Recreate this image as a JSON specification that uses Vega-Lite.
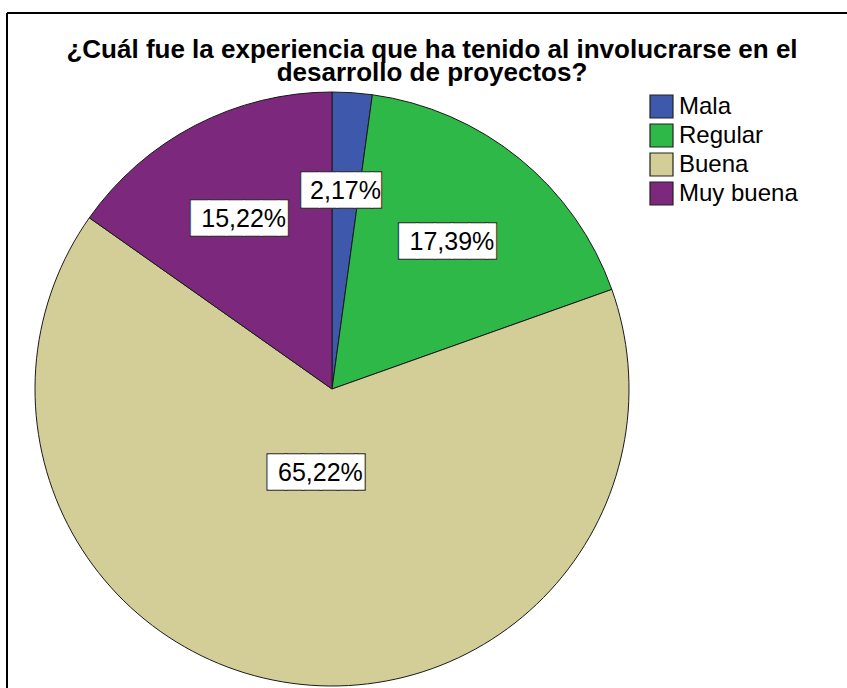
{
  "$schema": "https://vega.github.io/schema/vega-lite/v6.json",
  "width": 840,
  "height": 675,
  "autosize": {"type": "none"},
  "padding": {"left": 7, "top": 13, "right": 0, "bottom": 0},
  "background": "white",
  "view": {"stroke": "black", "strokeWidth": 2, "strokeDash": [840, 1515, 675, 0]},
  "config": {
    "font": "Liberation Sans",
    "view": {"stroke": "black", "strokeWidth": 2, "strokeDash": [840, 1515, 675, 0]}
  },
  "title": {
    "text": ["¿Cuál fue la experiencia que ha tenido al involucrarse en el", "desarrollo de proyectos?"],
    "anchor": "middle",
    "frame": "group",
    "offset": -73,
    "dx": 5,
    "fontSize": 26,
    "fontWeight": "bold",
    "font": "Liberation Sans",
    "lineHeight": 23,
    "color": "black"
  },
  "data": {
    "values": [
      {"categoria": "Mala", "codigo": 1, "pct": 2.17, "etiqueta": "2,17%"},
      {"categoria": "Regular", "codigo": 2, "pct": 17.39, "etiqueta": "17,39%"},
      {"categoria": "Buena", "codigo": 3, "pct": 65.22, "etiqueta": "65,22%"},
      {"categoria": "Muy buena", "codigo": 4, "pct": 15.22, "etiqueta": "15,22%"}
    ]
  },
  "encoding": {
    "theta": {"field": "pct", "type": "quantitative", "stack": true},
    "order": {"field": "codigo", "type": "quantitative"}
  },
  "layer": [
    {
      "mark": {"type": "arc", "x": 325, "y": 376, "outerRadius": 297, "stroke": "#1a1a1a", "strokeWidth": 1},
      "encoding": {
        "color": {
          "field": "categoria",
          "type": "nominal",
          "scale": {"domain": ["Mala", "Regular", "Buena", "Muy buena"], "range": ["#3E58AC", "#2EB848", "#D3CE97", "#7C287D"]},
          "legend": {
            "title": null,
            "orient": "none",
            "legendX": 642,
            "legendY": 81,
            "padding": 0,
            "symbolType": "square",
            "symbolSize": 529,
            "symbolStrokeColor": "#222222",
            "symbolStrokeWidth": 1.2,
            "symbolOpacity": 1,
            "labelFontSize": 24,
            "labelFont": "Liberation Sans",
            "labelColor": "black",
            "labelOffset": 5,
            "rowPadding": 0
          }
        }
      }
    },
    {
      "mark": {"type": "text", "x": 325, "y": 376, "radius": 198, "font": "DejaVu Sans Mono", "fontSize": 29, "align": "center", "baseline": "middle", "fill": "white", "stroke": "#333333", "strokeWidth": 3},
      "encoding": {"text": {"condition": {"test": "datum.categoria === 'Mala'", "value": "████▌"}, "value": ""}}
    },
    {
      "mark": {"type": "text", "x": 325, "y": 376, "radius": 198, "font": "DejaVu Sans Mono", "fontSize": 29, "align": "center", "baseline": "middle", "fill": "white", "stroke": "white", "strokeWidth": 0.6},
      "encoding": {"text": {"condition": {"test": "datum.categoria === 'Mala'", "value": "████▌"}, "value": ""}}
    },
    {
      "mark": {"type": "text", "x": 325, "y": 376, "radius": 198, "fontSize": 25, "align": "center", "baseline": "middle", "fill": "black"},
      "encoding": {"text": {"condition": {"test": "datum.categoria === 'Mala'", "field": "etiqueta"}, "value": ""}}
    },
    {
      "mark": {"type": "text", "x": 325, "y": 376, "radius": 190, "font": "DejaVu Sans Mono", "fontSize": 29, "align": "center", "baseline": "middle", "fill": "white", "stroke": "#333333", "strokeWidth": 3},
      "encoding": {"text": {"condition": {"test": "datum.categoria === 'Regular'", "value": "█████▌"}, "value": ""}}
    },
    {
      "mark": {"type": "text", "x": 325, "y": 376, "radius": 190, "font": "DejaVu Sans Mono", "fontSize": 29, "align": "center", "baseline": "middle", "fill": "white", "stroke": "white", "strokeWidth": 0.6},
      "encoding": {"text": {"condition": {"test": "datum.categoria === 'Regular'", "value": "█████▌"}, "value": ""}}
    },
    {
      "mark": {"type": "text", "x": 325, "y": 376, "radius": 190, "fontSize": 25, "align": "center", "baseline": "middle", "fill": "black"},
      "encoding": {"text": {"condition": {"test": "datum.categoria === 'Regular'", "field": "etiqueta"}, "value": ""}}
    },
    {
      "mark": {"type": "text", "x": 325, "y": 376, "radius": 85, "font": "DejaVu Sans Mono", "fontSize": 29, "align": "center", "baseline": "middle", "fill": "white", "stroke": "#333333", "strokeWidth": 3},
      "encoding": {"text": {"condition": {"test": "datum.categoria === 'Buena'", "value": "█████▌"}, "value": ""}}
    },
    {
      "mark": {"type": "text", "x": 325, "y": 376, "radius": 85, "font": "DejaVu Sans Mono", "fontSize": 29, "align": "center", "baseline": "middle", "fill": "white", "stroke": "white", "strokeWidth": 0.6},
      "encoding": {"text": {"condition": {"test": "datum.categoria === 'Buena'", "value": "█████▌"}, "value": ""}}
    },
    {
      "mark": {"type": "text", "x": 325, "y": 376, "radius": 85, "fontSize": 25, "align": "center", "baseline": "middle", "fill": "black"},
      "encoding": {"text": {"condition": {"test": "datum.categoria === 'Buena'", "field": "etiqueta"}, "value": ""}}
    },
    {
      "mark": {"type": "text", "x": 325, "y": 376, "radius": 192, "font": "DejaVu Sans Mono", "fontSize": 29, "align": "center", "baseline": "middle", "fill": "white", "stroke": "#333333", "strokeWidth": 3},
      "encoding": {"text": {"condition": {"test": "datum.categoria === 'Muy buena'", "value": "█████▌"}, "value": ""}}
    },
    {
      "mark": {"type": "text", "x": 325, "y": 376, "radius": 192, "font": "DejaVu Sans Mono", "fontSize": 29, "align": "center", "baseline": "middle", "fill": "white", "stroke": "white", "strokeWidth": 0.6},
      "encoding": {"text": {"condition": {"test": "datum.categoria === 'Muy buena'", "value": "█████▌"}, "value": ""}}
    },
    {
      "mark": {"type": "text", "x": 325, "y": 376, "radius": 192, "fontSize": 25, "align": "center", "baseline": "middle", "fill": "black"},
      "encoding": {"text": {"condition": {"test": "datum.categoria === 'Muy buena'", "field": "etiqueta"}, "value": ""}}
    }
  ]
}
